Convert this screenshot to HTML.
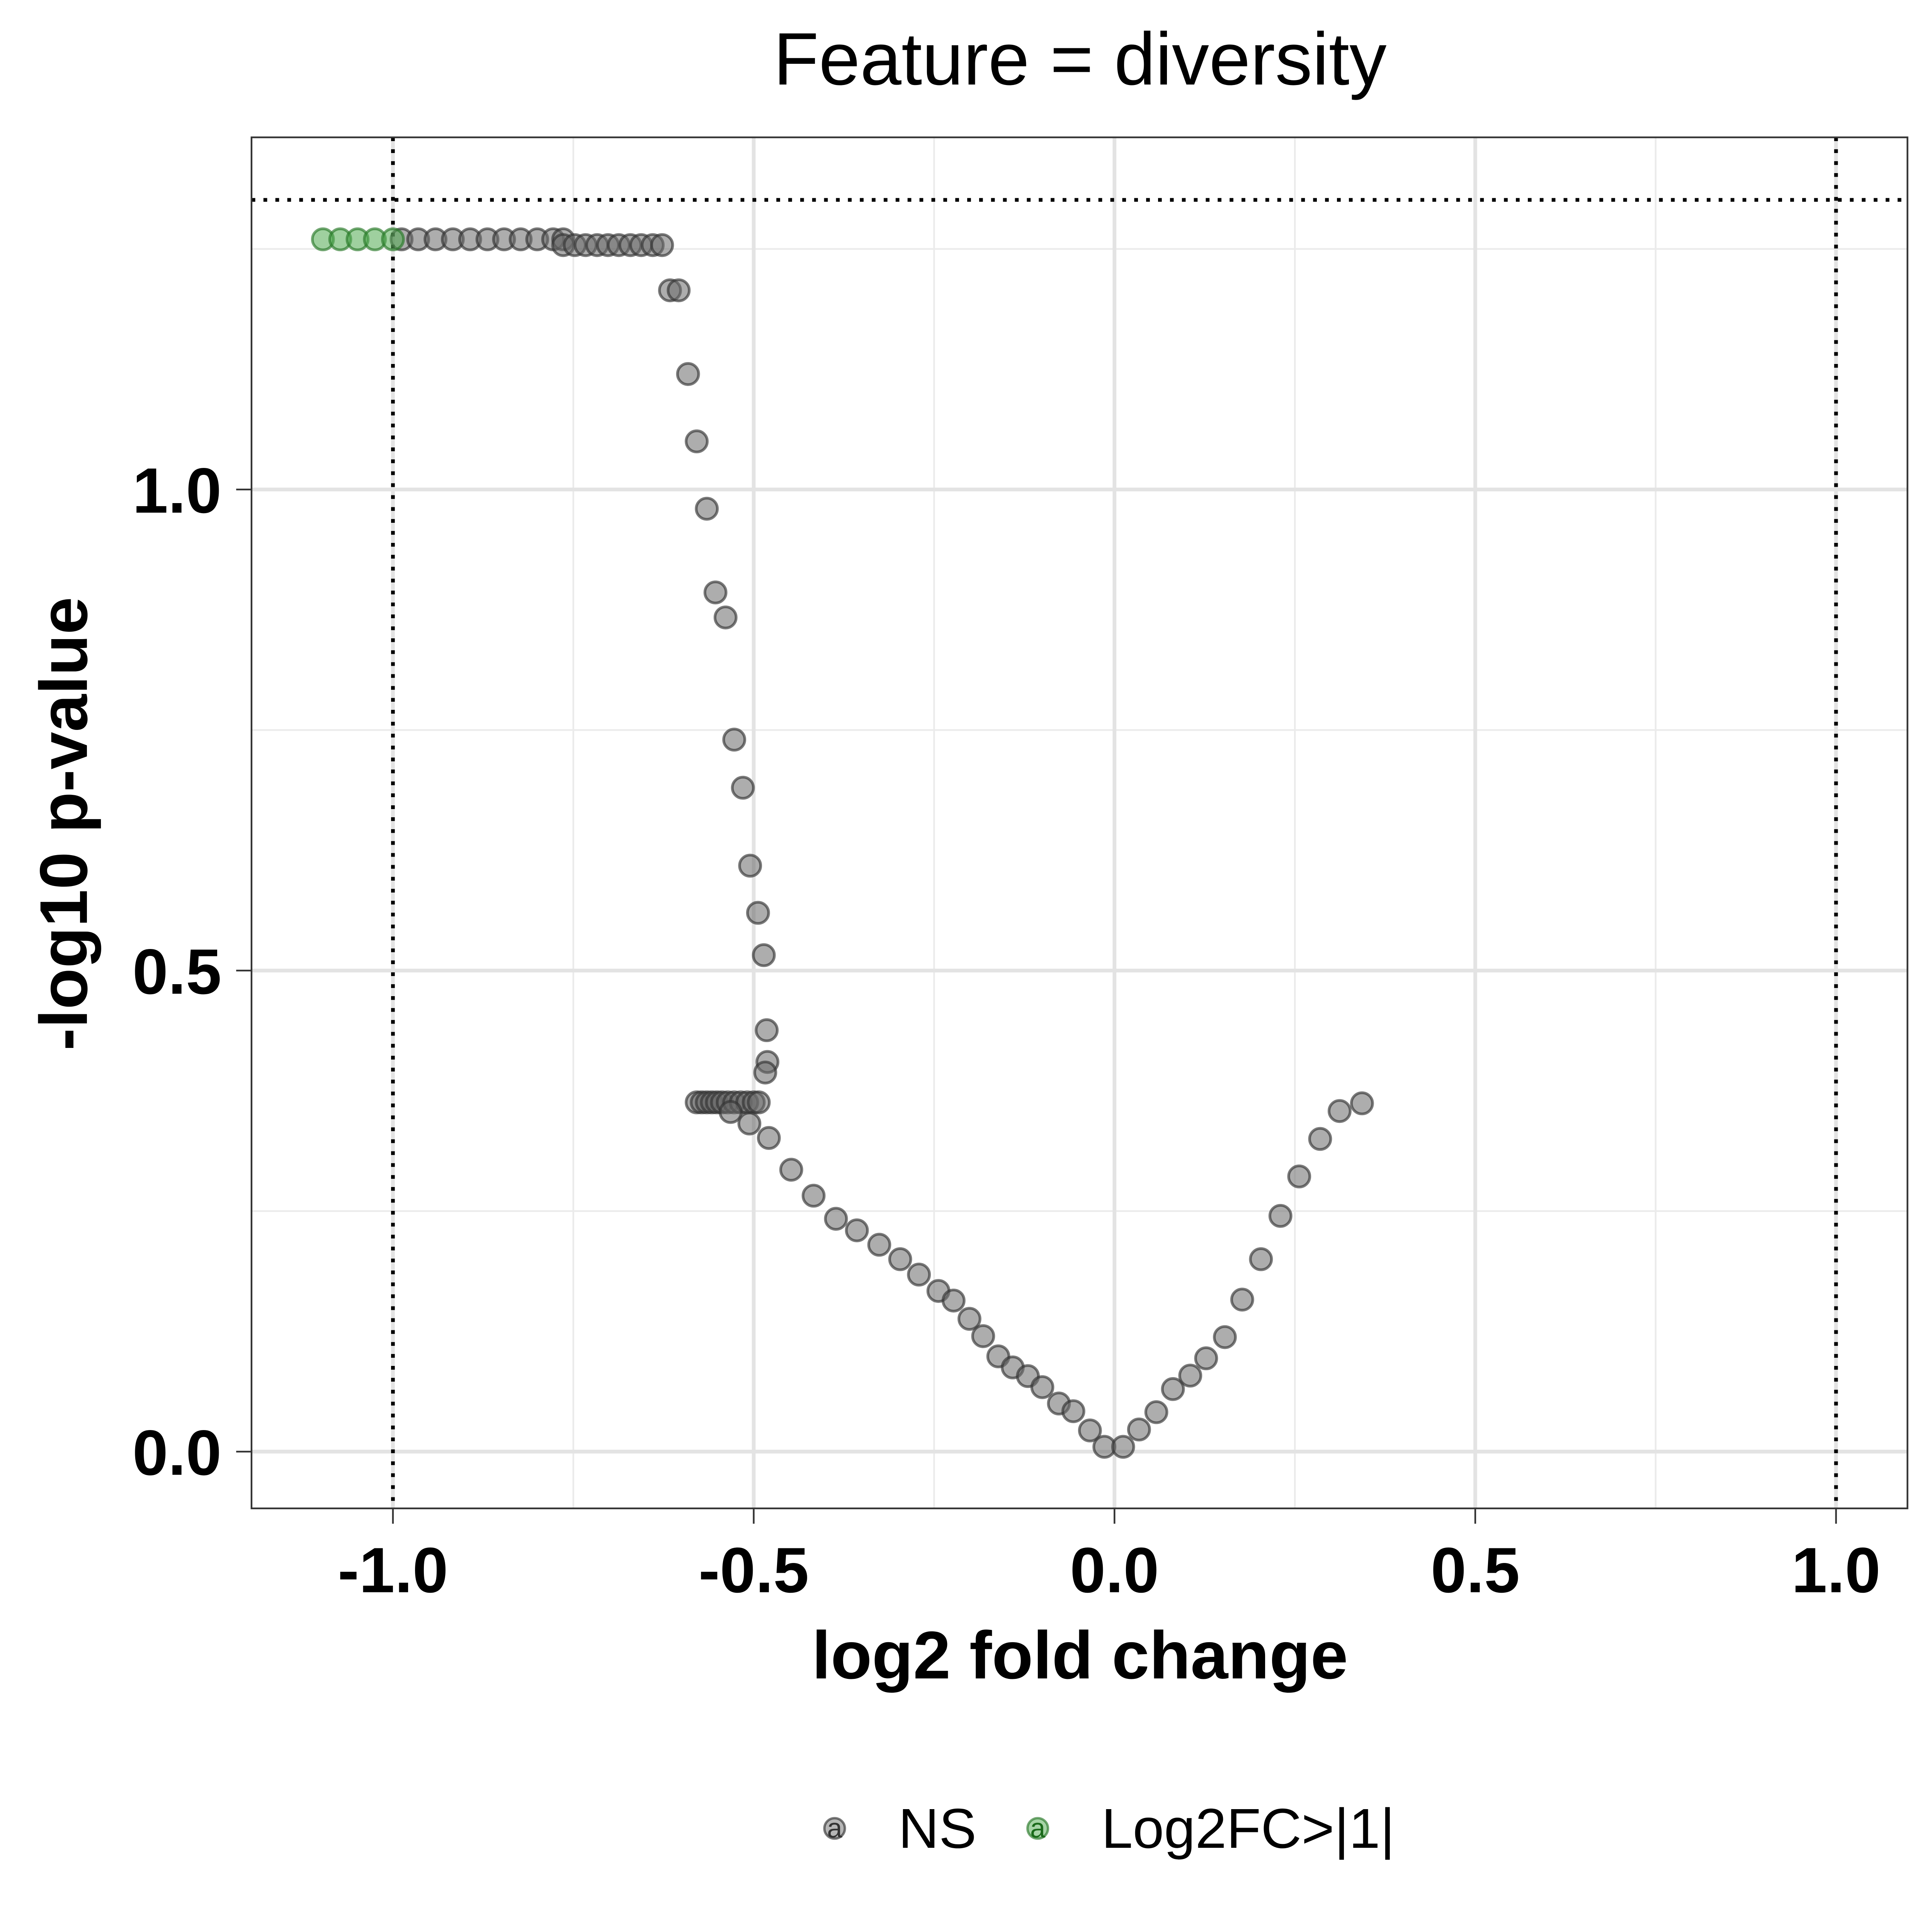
<!DOCTYPE html>
<html><head><meta charset="utf-8"><style>html,body{margin:0;padding:0;background:#fff;overflow:hidden;width:100vw;height:100vh}svg{display:block;position:fixed;left:0;top:0;width:100vw;height:100vh}</style></head>
<body>
<svg id="chart" viewBox="0 0 5669 5669" preserveAspectRatio="xMinYMin meet" xmlns="http://www.w3.org/2000/svg" font-family="Liberation Sans, Arial, sans-serif">
<rect width="5669" height="5669" fill="#fff"/>
<text x="3169" y="248" font-size="218" text-anchor="middle">Feature = diversity</text>
<g id="grid"></g>
<g id="refs"></g>
<g id="pts"></g>
<rect x="738" y="403" width="4859" height="4023" fill="none" stroke="#333" stroke-width="5"/>
<g id="axes"></g>
<text x="3169" y="4925" font-size="198" font-weight="bold" text-anchor="middle">log2 fold change</text>
<text transform="translate(255,2417) rotate(-90)" font-size="198" font-weight="bold" text-anchor="middle">-log10 p-value</text>
<g>
<circle cx="2449" cy="5365" r="30" fill="rgba(110,110,110,0.5)" stroke="rgba(50,50,50,0.65)" stroke-width="7"/>
<text x="2449" y="5392" font-size="80" text-anchor="middle" fill="#333">a</text>
<text x="2636" y="5422" font-size="165">NS</text>
<circle cx="3045" cy="5365" r="30" fill="rgba(80,170,80,0.5)" stroke="rgba(40,120,40,0.65)" stroke-width="7"/>
<text x="3045" y="5392" font-size="80" text-anchor="middle" fill="#1a6a1a">a</text>
<text x="3232" y="5422" font-size="165">Log2FC&gt;|1|</text>
</g>
</svg>
<script>
const xTicks=[-1,-0.5,0,0.5,1];
const xTickLabels=["-1.0","-0.5","0.0","0.5","1.0"];
const xMinor=[-0.75,-0.25,0.25,0.75];
const yTicks=[0,0.5,1];
const yTickLabels=["0.0","0.5","1.0"];
const yMinor=[0.25,0.75,1.25];
const greenX=[-1.097,-1.073,-1.049,-1.025,-1.0];
const greenY=[1.26,1.26,1.26,1.26,1.26];
const nsX=[-0.988,-0.965,-0.941,-0.917,-0.893,-0.869,-0.846,-0.823,-0.800,-0.778,-0.764,
-0.764,-0.748,-0.733,-0.717,-0.702,-0.687,-0.671,-0.656,-0.640,-0.627,
-0.616,-0.604,-0.591,-0.579,-0.565,-0.553,-0.539,-0.527,-0.515,-0.505,-0.494,-0.486,-0.482,-0.481,-0.484,
-0.579,-0.572,-0.565,-0.558,-0.551,-0.544,-0.536,-0.527,-0.518,-0.509,-0.500,-0.493,
-0.532,-0.506,-0.479,-0.448,-0.417,-0.386,-0.357,-0.326,-0.297,-0.271,-0.244,-0.223,-0.201,-0.182,-0.161,-0.141,-0.120,-0.100,-0.077,-0.057,-0.034,-0.014,
0.012,0.034,0.058,0.081,0.105,0.127,0.153,0.177,0.203,0.230,0.256,0.285,0.312,0.343];
const nsY=[1.26,1.26,1.26,1.26,1.26,1.26,1.26,1.26,1.26,1.26,1.26,
1.254,1.254,1.254,1.254,1.254,1.254,1.254,1.254,1.254,1.254,
1.207,1.207,1.12,1.05,0.98,0.893,0.867,0.74,0.69,0.609,0.56,0.516,0.438,0.405,0.394,
0.363,0.363,0.363,0.363,0.363,0.363,0.363,0.363,0.363,0.363,0.363,0.363,
0.353,0.341,0.326,0.293,0.266,0.242,0.230,0.215,0.200,0.184,0.167,0.157,0.138,0.120,0.099,0.0875,0.0785,0.067,0.050,0.042,0.022,0.005,
0.005,0.023,0.041,0.065,0.079,0.097,0.119,0.158,0.200,0.245,0.286,0.325,0.354,0.362];
const vLines=[-1,1];
const hLine=1.301;
const NS="http://www.w3.org/2000/svg";
const L=738,R=5597,T=403,B=4426;
const xMin=-1.196,xMax=1.099,yMin=-0.059,yMax=1.366;
const sx=v=>L+(v-xMin)/(xMax-xMin)*(R-L);
const sy=v=>B-(v-yMin)/(yMax-yMin)*(B-T);
function mk(tag,attrs,parent){const e=document.createElementNS(NS,tag);for(const k in attrs)e.setAttribute(k,attrs[k]);document.getElementById(parent).appendChild(e);return e;}
xMinor.forEach(v=>{const e=mk('line',{x1:sx(v),x2:sx(v),y1:T,y2:B,stroke:'#ebebeb','stroke-width':5},'grid');

});
yMinor.forEach(v=>{const e=mk('line',{x1:L,x2:R,y1:sy(v),y2:sy(v),stroke:'#ebebeb','stroke-width':5},'grid');

});
xTicks.forEach((v,i)=>{const e=mk('line',{x1:sx(v),x2:sx(v),y1:T,y2:B,stroke:'#e3e3e3','stroke-width':11},'grid');


const t=mk('line',{x1:sx(v),x2:sx(v),y1:B,y2:B+45,stroke:'#333','stroke-width':5},'axes');


const l=mk('text',{x:sx(v),y:4672,'font-size':188,'font-weight':'bold','text-anchor':'middle'},'axes');l.textContent=xTickLabels[i];

});
yTicks.forEach((v,i)=>{const e=mk('line',{x1:L,x2:R,y1:sy(v),y2:sy(v),stroke:'#e3e3e3','stroke-width':11},'grid');


const t=mk('line',{x1:L-45,x2:L,y1:sy(v),y2:sy(v),stroke:'#333','stroke-width':5},'axes');


const l=mk('text',{x:650,y:sy(v)+68,'font-size':188,'font-weight':'bold','text-anchor':'end'},'axes');l.textContent=yTickLabels[i];

});
vLines.forEach(v=>{const e=mk('line',{x1:sx(v),x2:sx(v),y1:T,y2:B,stroke:'#000','stroke-width':11,'stroke-dasharray':'11 24'},'refs');

});
{const e=mk('line',{x1:L,x2:R,y1:sy(hLine),y2:sy(hLine),stroke:'#000','stroke-width':11,'stroke-dasharray':'11 24'},'refs');

}
nsX.forEach((v,i)=>{const c=mk('circle',{cx:sx(v),cy:sy(nsY[i]),r:31,fill:'rgba(105,105,105,0.55)',stroke:'rgba(50,50,50,0.65)','stroke-width':8},'pts');

});
greenX.forEach((v,i)=>{const c=mk('circle',{cx:sx(v),cy:sy(greenY[i]),r:31,fill:'rgba(80,170,80,0.55)',stroke:'rgba(40,120,40,0.65)','stroke-width':8},'pts');

});
</script>
</body></html>
